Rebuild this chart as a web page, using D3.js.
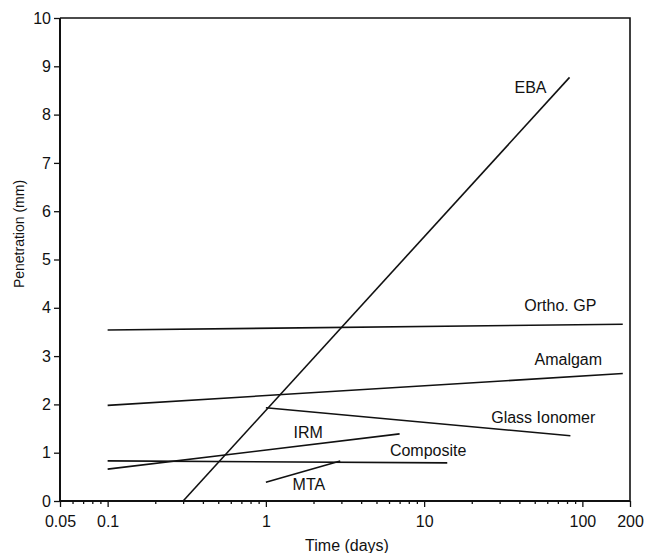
<!DOCTYPE html>
<html>
<head>
<meta charset="utf-8">
<script src="https://cdn.jsdelivr.net/npm/d3@7"></script>
<style>
  body { margin: 0; background: #fff; }
  text { font-family: "Liberation Sans", Arial, sans-serif; fill: #111; }
</style>
</head>
<body>
<svg id="chart" width="646" height="553"></svg>
<script>
// materials, each a straight segment on log time
const materials = ["EBA", "Ortho. GP", "Amalgam", "Glass Ionomer", "IRM", "Composite", "MTA"];
const startTime = [0.3, 0.1, 0.1, 1, 0.1, 0.1, 1];
const startDepth = [0, 3.54, 1.98, 1.93, 0.66, 0.83, 0.39];
const endTime = [83, 180, 180, 84, 7, 14, 2.95];
const endDepth = [8.77, 3.66, 2.64, 1.35, 1.39, 0.79, 0.83];
// label anchor (time, depth) for each material
const labelTime = [47, 72.6, 81.5, 56.6, 1.85, 10.6, 1.87];
const labelDepth = [8.45, 3.93, 2.81, 1.61, 1.3, 0.93, 0.23];

const xTickValues = [0.05, 0.1, 1, 10, 100, 200];
const yTickValues = [0, 1, 2, 3, 4, 5, 6, 7, 8, 9, 10];

const svg = d3.select("#chart");
const margin = { left: 60, right: 16, top: 18, bottom: 52 };
const W = 646, H = 553;

const x = d3.scaleLog().domain([0.05, 200]).range([margin.left, W - margin.right]);
const y = d3.scaleLinear().domain([0, 10]).range([H - margin.bottom, margin.top]);

// minor ticks on time axis
const minor = [];
[0.01, 0.1, 1, 10, 100].forEach(d => {
  for (let k = 2; k <= 9; k++) {
    const v = d * k;
    if (v > 0.05 && v < 200 && !xTickValues.includes(v)) minor.push(v);
  }
});

const gx = svg.append("g")
  .attr("transform", `translate(0,${y(0)})`)
  .call(d3.axisBottom(x).tickValues(xTickValues).tickFormat(d => d).tickSize(6).tickPadding(9));
const gxm = svg.append("g")
  .attr("transform", `translate(0,${y(0)})`)
  .call(d3.axisBottom(x).tickValues(minor).tickFormat("").tickSize(3));
gxm.select(".domain").remove();

const gy = svg.append("g")
  .attr("transform", `translate(${x(0.05)},0)`)
  .call(d3.axisLeft(y).tickValues(yTickValues).tickSize(6).tickPadding(3));

[gx, gxm, gy].forEach(g => {
  g.selectAll("line").attr("stroke", "#111").attr("stroke-width", 1.3);
  g.selectAll(".domain").attr("stroke", "#111").attr("stroke-width", 2);
  g.selectAll("text").attr("font-size", 16).attr("fill", "#111");
});
gy.select(".domain").attr("d", `M0,${y(0)}V${y(10)}`);
gx.select(".domain").attr("d", `M${x(0.05)},0H${x(200)}`);

// top and right frame
svg.append("path")
  .attr("d", `M${x(0.05)},${y(10)}H${x(200)}V${y(0)}`)
  .attr("fill", "none")
  .attr("stroke", "#111")
  .attr("stroke-width", 1.6);

// segments
svg.append("g")
  .selectAll("line")
  .data(materials)
  .join("line")
  .attr("x1", (d, i) => x(startTime[i]))
  .attr("y1", (d, i) => y(startDepth[i]))
  .attr("x2", (d, i) => x(endTime[i]))
  .attr("y2", (d, i) => y(endDepth[i]))
  .attr("stroke", "#111")
  .attr("stroke-width", 1.6);

svg.append("g")
  .selectAll("text")
  .data(materials)
  .join("text")
  .attr("x", (d, i) => x(labelTime[i]))
  .attr("y", (d, i) => y(labelDepth[i]))
  .attr("text-anchor", "middle")
  .attr("font-size", 16)
  .text(d => d);

svg.append("text")
  .attr("x", 347)
  .attr("y", 551)
  .attr("text-anchor", "middle")
  .attr("font-size", 16)
  .text("Time (days)");

svg.append("text")
  .attr("transform", "translate(24,234) rotate(-90)")
  .attr("text-anchor", "middle")
  .attr("font-size", 14)
  .text("Penetration (mm)");
</script>
</body>
</html>
